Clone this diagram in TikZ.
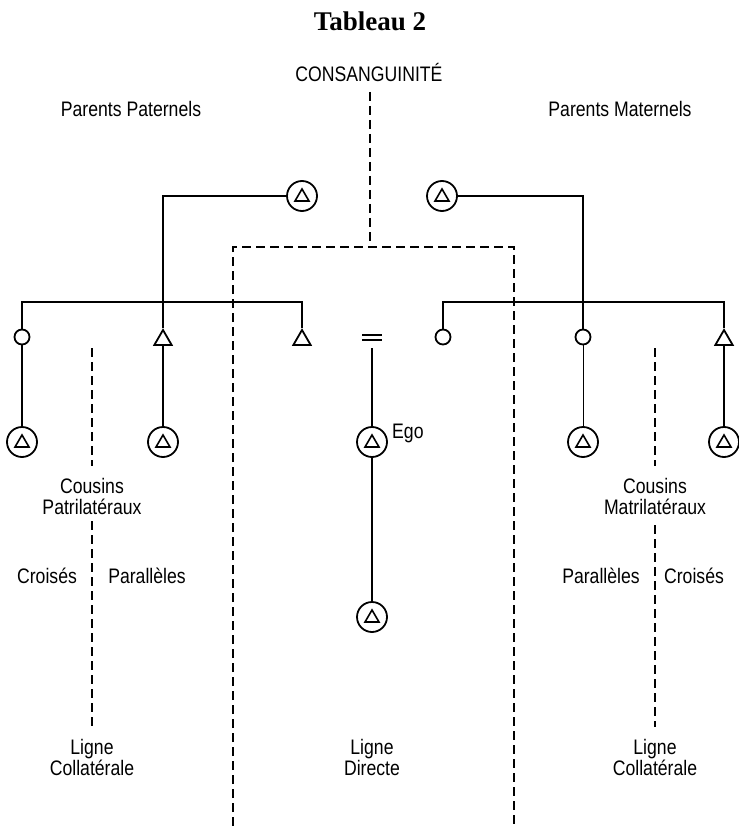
\documentclass[tikz,border=0pt]{standalone}
\usepackage{fontspec}
\setmainfont{Liberation Sans}
\newfontfamily\etifont[FakeStretch=0.84]{Liberation Sans}
\newfontfamily\titlefont{Liberation Serif}
\usetikzlibrary{shapes.geometric}

\tikzset{
  lien/.style={line width=1.8pt},
  lienfin/.style={line width=0.9pt},
  pointille/.style={line width=1.8pt, dash pattern=on 9pt off 5pt},
  homme/.style={draw, line width=1.8pt, regular polygon, regular polygon sides=3, minimum size=20pt, inner sep=0pt},
  femme/.style={draw, line width=1.8pt, circle, minimum size=15pt, inner sep=0pt},
  ego/.style={draw, line width=1.8pt, circle, minimum size=30pt, inner sep=0pt,
    path picture={\draw[line width=1.6pt] ([shift={(-7pt,-5pt)}]path picture bounding box.center) -- ++(14pt,0) -- ++(-7pt,12pt) -- cycle;}},
  etiquette/.style={font=\etifont\fontsize{21}{21}\selectfont, align=center, inner sep=1pt}
}

\begin{document}
\begin{tikzpicture}[x=1pt,y=-1pt]
\useasboundingbox (0,0) rectangle (738,826);

\def\barre{302}
\def\freres{340}
\def\cousins{442}

% titles
\node[font=\titlefont\bfseries\fontsize{27}{30}\selectfont, anchor=base] (titre) at (370,31) {Tableau 2};
\node[etiquette, anchor=base] (consang) at (369,82) {CONSANGUINITÉ};
\node[etiquette, anchor=base] (pat) at (131,117) {Parents Paternels};
\node[etiquette, anchor=base] (mat) at (620,117) {Parents Maternels};

% grand-parents
\node[ego] (gpp) at (302,196) {};
\node[ego] (gpm) at (442,196) {};

% freres et soeurs
\node[femme] (f1) at (22,337) {};
\node[homme] (h1) at (163,\freres) {};
\node[homme] (h2) at (302,\freres) {};
\node[femme] (f2) at (443,337) {};
\node[femme] (f3) at (583,337) {};
\node[homme] (h3) at (724,\freres) {};
\coordinate (bg) at (302,\barre);
\coordinate (bd) at (724,\barre);

% cousins
\node[ego] (c1) at (22,\cousins) {};
\node[ego] (c2) at (163,\cousins) {};
\node[ego] (c3) at (583,\cousins) {};
\node[ego] (c4) at (724,\cousins) {};

% ligne directe
\coordinate (mariage) at (372,348);
\node[ego] (moi) at (372,\cousins) {};
\node[etiquette, anchor=base west] (egolab) at (391,438) {Ego};
\node[ego] (fils) at (372,617) {};

\draw[lien] (gpp.west) -| (h1.north);
\draw[lien] (gpm.east) -| (f3.north);
\draw[lien] (f1.north) |- (bg) -- (h2.north);
\draw[lien] (f2.north) |- (bd) -- (h3.north);
\draw[lien] (f1) -- (c1);
\draw[lien] (h1.south) -- (c2);
\draw[lienfin] (f3) -- (c3);
\draw[lien] (h3.south) -- (c4);
\draw[lien] (362,335) -- (382,335);
\draw[lien] (362,340) -- (382,340);
\draw[lien] (mariage) -- (moi) -- (fils);

% pointilles
\draw[pointille] (370,92) -- (370,247);
\draw[pointille] (233,826) -- (233,247) -- (514,247) -- (514,826);
\draw[pointille] (92,348) -- (92,466);
\draw[pointille] (92,521) -- (92,727);
\draw[pointille] (655,348) -- (655,466);
\draw[pointille] (655,525) -- (655,727);

% textes
\node[etiquette] (cpat) at (92,496) {Cousins\\Patrilatéraux};
\node[etiquette] (cmat) at (655,496) {Cousins\\Matrilatéraux};
\node[etiquette, anchor=base] (cr1) at (47,583) {Croisés};
\node[etiquette, anchor=base] (pa1) at (147,583) {Parallèles};
\node[etiquette, anchor=base] (pa2) at (601,583) {Parallèles};
\node[etiquette, anchor=base] (cr2) at (694,583) {Croisés};
\node[etiquette] (lcg) at (92,757) {Ligne\\Collatérale};
\node[etiquette] (ld) at (372,757) {Ligne\\Directe};
\node[etiquette] (lcd) at (655,757) {Ligne\\Collatérale};

\end{tikzpicture}
\end{document}
